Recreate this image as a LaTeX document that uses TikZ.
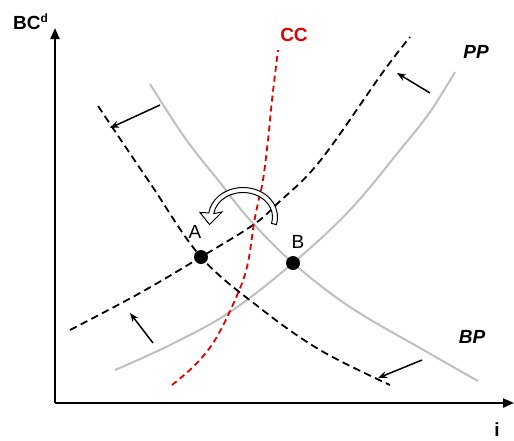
\documentclass[tikz,border=0pt]{standalone}
\usepackage{fontspec}
\setmainfont{Liberation Sans}
\usetikzlibrary{arrows.meta,calc}
\begin{document}
\begin{tikzpicture}[x=1pt,y=1pt,
  lbl/.style={font=\fontsize{19}{22}\selectfont\bfseries, inner sep=0pt},
  ptlbl/.style={font=\fontsize{19}{22}\selectfont, inner sep=0pt},
  axis/.style={line width=2.2pt, -{Triangle[length=11pt,width=9pt]}},
  grayc/.style={draw=black!25, line width=2pt},
  dashc/.style={draw=black, line width=1.8pt, dash pattern=on 7.5pt off 4.5pt},
  redc/.style={draw=red!90!black, line width=1.8pt, dash pattern=on 6pt off 4pt},
  dot/.style={circle, fill=black, inner sep=0pt, minimum size=14pt},
  shift arrow/.style={line width=1.5pt, -{Stealth[length=9pt,width=7pt]}},
  rotarrow/.style={draw=black, fill=white, line width=1pt, line join=miter}
]
\useasboundingbox (0,-440) rectangle (514,0);

% axes
\coordinate (O) at (55,-403);
\coordinate (Ytop) at (55,-28);
\coordinate (Xend) at (514,-403);
\draw[axis] (O) -- (Ytop);
\draw[axis] (O) -- (Xend);
\node[lbl, anchor=base west] (BCd) at (13,-29) {BC\raisebox{7pt}{\fontsize{12}{14}\selectfont d}};
\node[lbl] (ilbl) at (497,-430) {i};

% gray curves (BP, PP)
\draw[grayc] plot[smooth, tension=0.6] coordinates {(150,-84) (185,-138) (218,-180) (250,-220) (293,-263) (350,-307) (420,-348) (478,-381)};
\draw[grayc] plot[smooth, tension=0.6] coordinates {(115,-370) (170,-345) (230,-312) (293,-263) (350,-210) (400,-150) (430,-112) (455,-72)};

% dashed shifted curves
\draw[dashc] plot[smooth, tension=0.6] coordinates {(98,-106) (150,-183) (201,-257) (260,-308) (320,-350) (390,-385)};
\draw[dashc] plot[smooth, tension=0.6] coordinates {(70,-330) (140,-293) (201,-257) (253,-225) (278,-203) (320,-161) (383,-72) (410,-37)};

% red CC
\draw[redc] plot[smooth, tension=0.6] coordinates {(172,-385) (195,-365) (215,-340) (235,-300) (247,-267) (254,-223) (258,-203) (263,-180) (268,-140) (272,-100) (278,-50)};

% labels of curves
\node[lbl, text=red!90!black] (CC) at (294,-35) {CC};
\node[lbl, font=\fontsize{19}{22}\selectfont\bfseries\itshape] (PP) at (476,-52) {PP};
\node[lbl, font=\fontsize{19}{22}\selectfont\bfseries\itshape] (BP) at (472,-337) {BP};

% points
\node[dot] (A) at (201,-257) {};
\node[dot] (B) at (293,-263) {};
\node[ptlbl] (Alb) at (195,-232) {A};
\node[ptlbl] (Blb) at (298,-242) {B};

% shift arrows
\coordinate (s1a) at (160,-105); \coordinate (s1b) at (110,-128);
\coordinate (s2a) at (430,-93);  \coordinate (s2b) at (397,-73);
\coordinate (s3a) at (153,-343); \coordinate (s3b) at (130,-313);
\coordinate (s4a) at (422,-360); \coordinate (s4b) at (378,-378);
\draw[shift arrow] (s1a) -- (s1b);
\draw[shift arrow] (s2a) -- (s2b);
\draw[shift arrow] (s3a) -- (s3b);
\draw[shift arrow] (s4a) -- (s4b);

% rotation block arrow
\coordinate (rc) at (243,-217);
\draw[rotarrow]
  ($(rc)+({34.5*cos(-15)},{29.5*sin(-15)})$)
  arc[start angle=-15, end angle=172, x radius=34.5, y radius=29.5]
  -- (200,-212.5) -- (209.5,-224.5) -- (222,-212)
  -- ($(rc)+({29.5*cos(172)},{24.5*sin(172)})$)
  arc[start angle=172, end angle=-15, x radius=29.5, y radius=24.5]
  -- cycle;
\end{tikzpicture}
\end{document}
